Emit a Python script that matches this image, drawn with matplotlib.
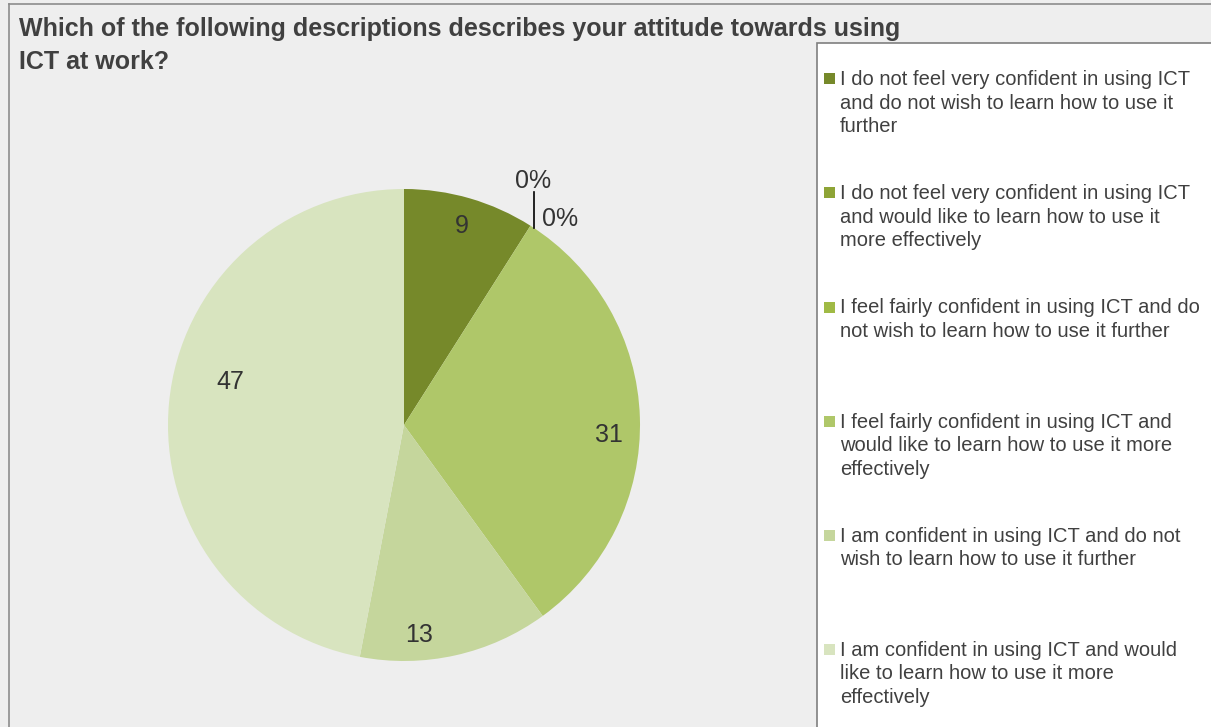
import numpy as np
import matplotlib
matplotlib.use("Agg")
import matplotlib.pyplot as plt
from matplotlib.patches import Rectangle

plt.rcParams['font.family'] = ['Liberation Sans', 'DejaVu Sans']

title = "Which of the following descriptions describes your attitude towards using\nICT at work?"
answers = [
    "I do not feel very confident in using ICT\nand do not wish to learn how to use it\nfurther",
    "I do not feel very confident in using ICT\nand would like to learn how to use it\nmore effectively",
    "I feel fairly confident in using ICT and do\nnot wish to learn how to use it further",
    "I feel fairly confident in using ICT and\nwould like to learn how to use it more\neffectively",
    "I am confident in using ICT and do not\nwish to learn how to use it further",
    "I am confident in using ICT and would\nlike to learn how to use it more\neffectively",
]
counts = [9, 0, 0, 31, 13, 47]
colors = ["#76892a", "#8ea436", "#a0ba45", "#afc769", "#c5d69c", "#d8e4bf"]

# label placement tweaks (angle shift in degrees, radius fraction)
label_shift = [0, 0, 0, -4.6, -8.6, -8.6]
label_rad = [0.88, 0, 0, 0.87, 0.89, 0.76]

W, H = 1211, 727
fig = plt.figure(figsize=(W / 100, H / 100), dpi=100)
fig.patch.set_facecolor("#eeeeee")

# outer frame (left/top edges only visible)
fig.add_artist(plt.Line2D([9 / W, 9 / W], [0, 1 - 4 / H], color="#8c8c8c", lw=1.2,
                          transform=fig.transFigure))
fig.add_artist(plt.Line2D([9 / W, 1], [1 - 4 / H, 1 - 4 / H], color="#8c8c8c", lw=1.2,
                          transform=fig.transFigure))

fig.text(19 / W, 1 - 17 / H, title, fontsize=18, fontweight="bold", color="#404040",
         va="top", ha="left", linespacing=1.46)

# pie
cx, cy, r = 404, 425, 236
ax = fig.add_axes([(cx - r) / W, (H - cy - r) / H, 2 * r / W, 2 * r / H])
ax.axis("off")
wedges, _ = ax.pie(counts, colors=colors, startangle=90, counterclock=False, radius=1,
                   wedgeprops=dict(linewidth=0))
ax.set_xlim(-1, 1)
ax.set_ylim(-1, 1)
ax.set_aspect("equal")

for w, n, sh, rr in zip(wedges, counts, label_shift, label_rad):
    if n == 0:
        continue
    ang = np.deg2rad((w.theta1 + w.theta2) / 2 + sh)
    ax.text(rr * np.cos(ang), rr * np.sin(ang), str(n), fontsize=18, color="#333333",
            ha="center", va="center")

# zero-valued slices get outside labels with a leader line
zero_w = [w for w, n in zip(wedges, counts) if n == 0]
ang = np.deg2rad(zero_w[0].theta1)
ex, ey = np.cos(ang), np.sin(ang)
ax.plot([ex + 0.015, ex + 0.015], [ey - 0.01, ey + 0.145], color="black", lw=1.2,
        clip_on=False)
ax.text(ex + 0.01, ey + 0.19, "0%", fontsize=18, color="#333333", ha="center",
        va="center")
ax.text(ex + 0.125, ey + 0.03, "0%", fontsize=18, color="#333333", ha="center",
        va="center")

# legend box
lx, ly = 817, 43
fig.add_artist(Rectangle((lx / W, -0.05), 1.05 - lx / W, 1 - ly / H + 0.05,
                         transform=fig.transFigure, facecolor="white",
                         edgecolor="#7f7f7f", lw=1.2))
step = 114.1
for i, (txt, c) in enumerate(zip(answers, colors)):
    y0 = 78.8 + i * step
    fig.add_artist(Rectangle((824 / W, 1 - (y0 + 5.5) / H), 11 / W, 11 / H,
                             transform=fig.transFigure, facecolor=c, edgecolor="none"))
    fig.text(840 / W, 1 - (y0 - 8.5) / H, txt, fontsize=14.5, color="#404040",
             ha="left", va="top", linespacing=1.3)

fig.savefig("out.png", dpi=100, facecolor=fig.get_facecolor())
